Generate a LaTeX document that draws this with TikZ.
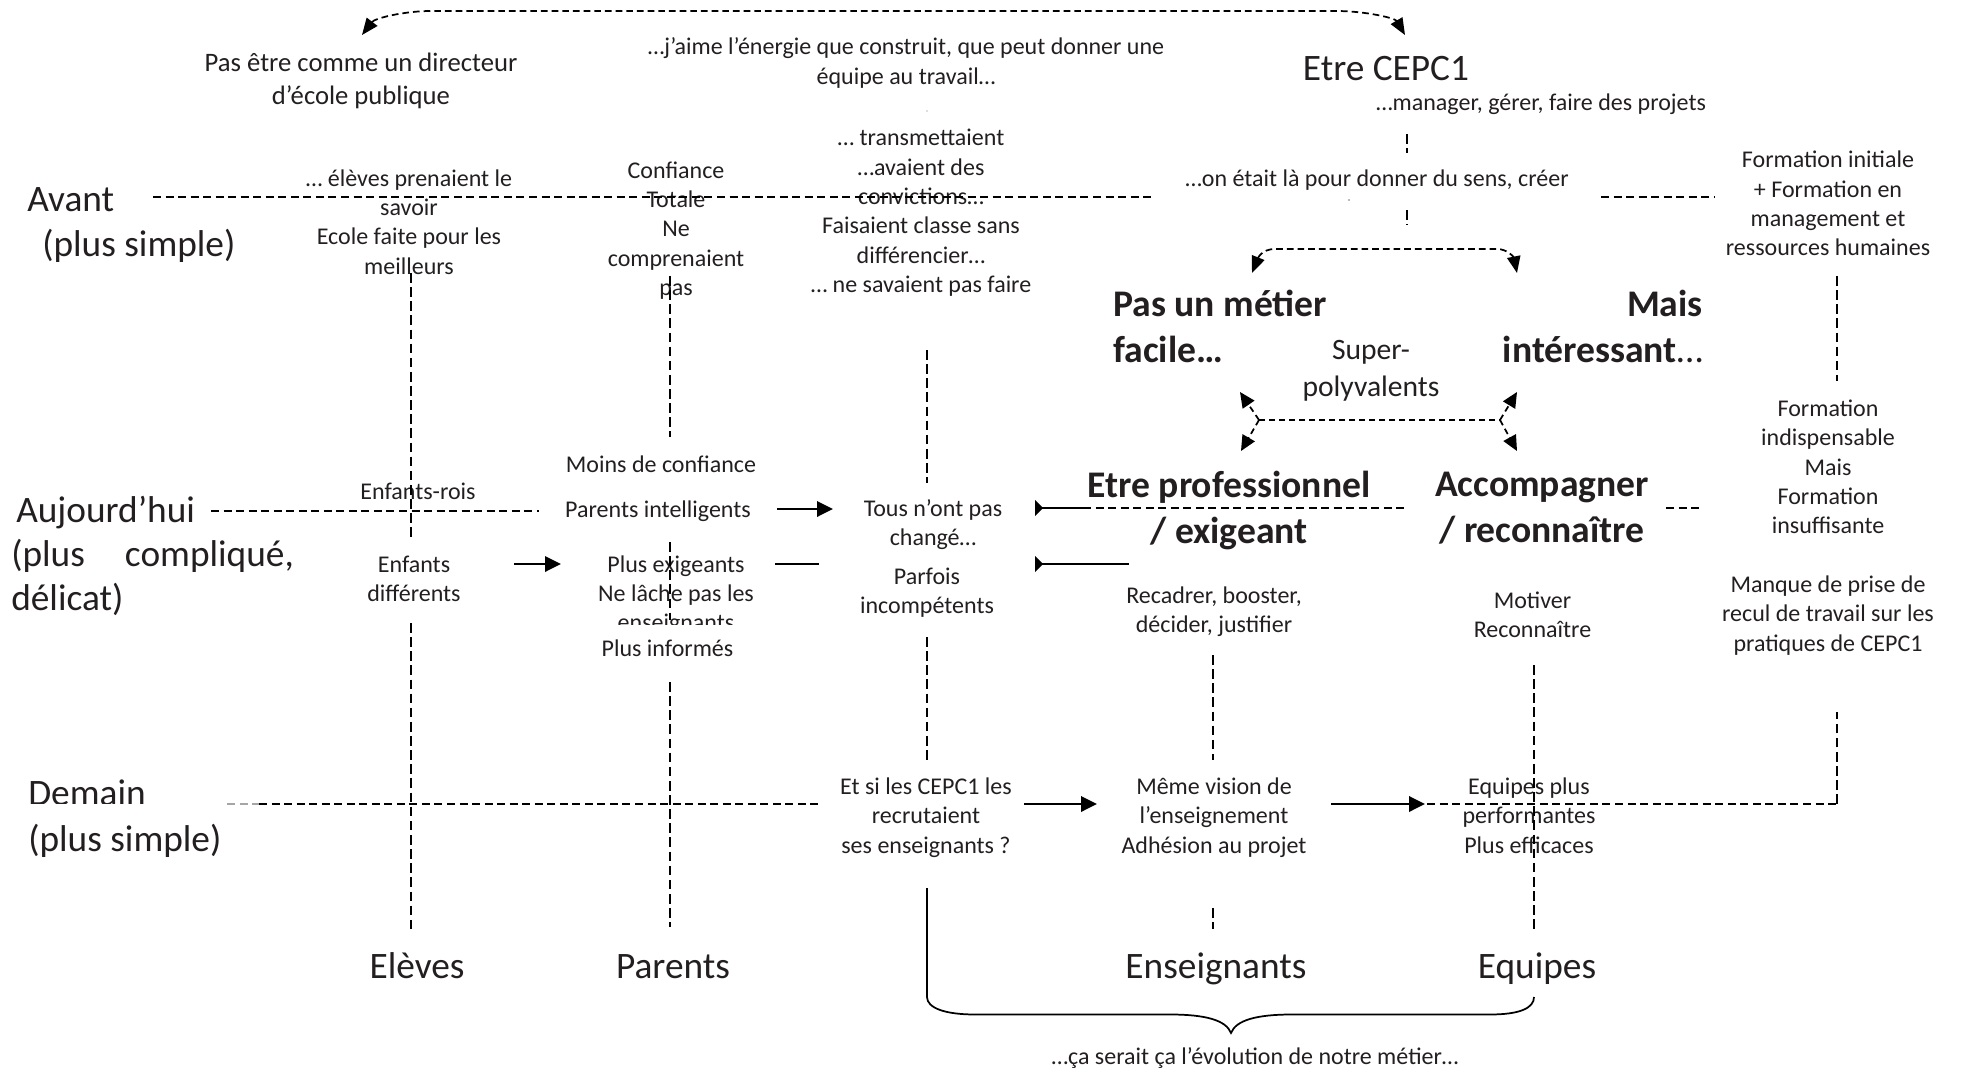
\documentclass[tikz,border=0pt]{standalone}
\usepackage{fontspec}
\setmainfont{Carlito}
\usetikzlibrary{arrows.meta}
\definecolor{ink}{HTML}{231F20}
\newcommand\vst{\rule[-.3em]{0pt}{.95em}}
\tikzset{
  lbl/.style={text=ink,align=center,inner sep=0pt,yshift=-2.25pt,execute at begin node=\vst,execute at end node=\vst},
  small/.style={lbl,font=\fontsize{18}{22}\selectfont},
  medium/.style={lbl,font=\fontsize{20}{24.5}\selectfont},
  mid/.style={lbl,font=\fontsize{22.2}{27.5}\selectfont},
  big/.style={lbl,yshift=-1.1pt,font=\fontsize{28}{32.5}\selectfont},
  heavy/.style={lbl,font=\fontsize{28.2}{34}\selectfont\bfseries},
  dsh/.style={draw=black,line width=1.2pt,dash pattern=on 6pt off 3.4pt},
  vdsh/.style={draw=black,line width=1pt,dash pattern=on 7.2pt off 3.4pt},
  solidarrow/.style={draw=black,line width=1.8pt,-{Triangle[length=12pt,width=11.5pt]}},
  cutarrow/.style={draw=black,line width=1.8pt,-{Triangle[reversed,length=6pt,width=12pt]}},
  curved/.style={draw=black,line width=1.3pt,dash pattern=on 5pt off 3pt,{Triangle[length=12.5pt,width=10pt]}-{Triangle[length=12.5pt,width=10pt]}},
  onehead/.style={draw=black,line width=1.3pt,dash pattern=on 4.5pt off 3pt,-{Triangle[length=11.5pt,width=10.5pt]}},
  speck/.style={fill=black!55}
}
\begin{document}
\begin{tikzpicture}[x=0.75pt,y=-0.75pt]
\useasboundingbox (0,0) rectangle (1961,1070);
% free ends
\foreach \n/\x/\y in {
 av1/153/197,av2/1152/197,av3/1601/197,av4/1714/197,
 au1/211/511,au2/539/511,au3/1083/508,au4/1407/508,au5/1666/508,au6/1699/508,
 de0/227/804,de1/259/804,de2/819/804,de3/1427/804,de4/1837/804,de5/1837/712,
 c1a/411/273,c1b/411/538,c1c/411/623,c1d/411/932,
 c2a/670/276,c2b/670/437,c2c/670/542,c2d/670/620,c2e/670/682,c2f/670/927,
 c3a/927/350,c3b/927/483,c3c/927/637,c3d/927/760,
 c4a/1213/655,c4b/1213/760,c4c/1213/908,c4d/1213/929,
 c5a/1534/665,c5b/1534/932,
 c6a/1837/276,c6b/1837/381,
 t1a/1407/134,t1b/1407/153,t2a/1407/210,t2b/1407/225,
 a1a/777/509,a1b/833/509,a2a/1083/508,a2b/1035/508,a3a/1129/564,a3b/1035/564,
 l4a/775/564,l4b/819/564,a5a/514/564,a5b/561/564,
 a6a/1024/804,a6b/1097/804,a7a/1331/804,a7b/1425/804,
 k1/362/35,k2/1405/35,k3/1252/273,k4/1517/273,
 s1/1240/392,s2/1517/392,s3/1241/451,s4/1517/451,s5/1259/420,s6/1500/420,
 brA/927/888,brB/1534/997,brT/1231/1033}
 {\coordinate (\n) at (\x,\y);}
% Clipped texts
\begin{scope}
 \clip (0,600) rectangle (1961,624);
 \node[small] (ens) at (676,623) {enseignants};
\end{scope}
\begin{scope}
 \clip (0,760) rectangle (400,803.5);
 \node[big] (demain) [anchor=west] at (28,794) {Demain};
\end{scope}
% Row titles
\node[big,anchor=west] (avant) at (27,201) {Avant};
\node[big,anchor=west] (avant2) at (42,244) {(plus simple)};
\node[big,anchor=west] (auj) at (16,510) {Aujourd’hui};
\node[big,anchor=west] (auj2) at (11,554) {\makebox[212pt][s]{(plus\hfill compliqué,}};
\node[big,anchor=west] (auj3) at (11,598) {délicat)};
\node[big,anchor=west] (demain2) at (28,839) {(plus simple)};
% Column titles
\node[big] (eleves) at (417,967) {Elèves};
\node[big] (parents) at (673,967) {Parents};
\node[big] (enseign) at (1216,967) {Enseignants};
\node[big] (equipes) at (1537,967) {Equipes};
% Top
\node[medium] (dir) at (361,79.5) {Pas être comme un directeur\\d’école publique};
\node[small] (aime) at (906,61.5) {…j’aime l’énergie que construit, que peut donner une\\équipe au travail…};
\node[big] (cepc) at (1386,70) {Etre CEPC1};
\node[small] (manager) at (1541,103) {…manager, gérer, faire des projets};
\node[small] (sens) at (1377,179) {…on était là pour donner du sens, créer};
% Column texts, before
\node[small] (elevesav) at (409,222.5) {… élèves prenaient le\\savoir\\Ecole faite pour les\\meilleurs};
\node[small] (confiance) at (676,229) {Confiance\\Totale\\Ne\\comprenaient\\pas};
\node[small] (transm) at (921,211.5) {… transmettaient\\…avaient des\\convictions…\\Faisaient classe sans\\différencier…\\… ne savaient pas faire};
\node[small] (forminit) at (1828,204) {Formation initiale\\+ Formation en\\management et\\ressources humaines};
% Today
\node[small] (rois) at (418,491.5) {Enfants-rois};
\node[small] (diff) at (414,579.5) {Enfants\\différents};
\node[small] (moins) at (661,465) {Moins de confiance};
\node[small] (intel) at (658,510) {Parents intelligents};
\node[small] (exig) at (676,579.5) {Plus exigeants\\Ne lâche pas les};
\node[small] (inform) at (667.5,649) {Plus informés};
\node[small] (tous) at (933,523) {Tous n’ont pas\\changé…};
\node[small] (parfois) at (927,591.5) {Parfois\\incompétents};
\node[heavy] (pro) at (1229,510) {Etre professionnel\\/ exigeant};
\node[heavy] (acc) at (1542,510) {Accompagner\\/ reconnaître};
\node[small] (recad) at (1214,610.5) {Recadrer, booster,\\décider, justifier};
\node[small] (motiv) at (1532.5,615.5) {Motiver\\Reconnaître};
\node[small] (formind) at (1828,467.5) {Formation\\indispensable\\Mais\\Formation\\insuffisante};
\node[small] (manque) at (1828,614) {Manque de prise de\\recul de travail sur les\\pratiques de CEPC1};
% Tomorrow
\node[small] (etsi) at (926,816) {Et si les CEPC1 les\\recrutaient\\ses enseignants ?};
\node[small] (meme) at (1214,816) {Même vision de\\l’enseignement\\Adhésion au projet};
\node[small] (eqp) at (1529,816) {Equipes plus\\performantes\\Plus efficaces};
% Bold centre
\node[heavy,anchor=west,align=left] (pas) at (1113,329) {Pas un métier\\facile…};
\node[heavy,anchor=east,align=right] (mais) at (1703,329) {Mais\\intéressant{\mdseries …}};
\node[mid] (super) at (1371,370) {Super-\\polyvalents};
\node[small] (evol) at (1255,1057) {…ça serait ça l’évolution de notre métier…};
% Dashed lines
\draw[dsh] (av1) -- (av2);
\draw[dsh] (av3) -- (av4);
\draw[dsh] (au1) -- (au2);
\draw[dsh] (au3) -- (au4);
\draw[dsh] (au5) -- (au6);
\draw[dsh,draw=gray!70,line width=.8pt] (de0) -- (de1);
\draw[dsh] (de1) -- (de2);
\draw[dsh] (de3) -- (de4);
\draw[vdsh] (de4) -- (de5);
\draw[vdsh] (c1a) -- (c1b);
\draw[vdsh] (c1c) -- (c1d);
\draw[vdsh] (c2a) -- (c2b);
\draw[vdsh] (c2c) -- (c2d);
\draw[vdsh] (c2e) -- (c2f);
\draw[vdsh] (c3a) -- (c3b);
\draw[vdsh] (c3c) -- (c3d);
\draw[vdsh] (c4a) -- (c4b);
\draw[vdsh] (c4c) -- (c4d);
\draw[vdsh] (c5a) -- (c5b);
\draw[vdsh] (c6a) -- (c6b);
\draw[vdsh] (t1a) -- (t1b);
\draw[vdsh] (t2a) -- (t2b);
% Solid arrows
\draw[solidarrow] (a1a) -- (a1b);
\draw[cutarrow] (a2a) -- (a2b);
\draw[cutarrow] (a3a) -- (a3b);
\draw[solidarrow] (a5a) -- (a5b);
\draw[solidarrow] (a6a) -- (a6b);
\draw[solidarrow] (a7a) -- (a7b);
\draw[draw=black,line width=1.8pt] (l4a) -- (l4b);
% Curved double arrows
\draw[curved] (k1) .. controls (375,18) and (405,11) .. (431,11) -- (1336,11) .. controls (1365,11) and (1395,18) .. (k2);
\draw[curved] (k3) .. controls (1258,258) and (1262,249) .. (1275,249) -- (1497,249) .. controls (1508,249) and (1514,258) .. (k4);
\draw[onehead] (s5) -- (s1);
\draw[onehead] (s6) -- (s2);
\draw[onehead] (s5) -- (s3);
\draw[onehead] (s6) -- (s4);
\draw[line width=1.3pt,dash pattern=on 4.5pt off 3pt] (s5) -- (s6);
% Brace
\draw[black,line width=1.3pt] (brA) -- (927,997) .. controls (927,1008) and (945,1014.5) .. (975,1014.5) -- (1170,1014.5) .. controls (1205,1014.5) and (1226,1020) .. (brT) .. controls (1236,1020) and (1257,1014.5) .. (1292,1014.5) -- (1490,1014.5) .. controls (1520,1014.5) and (1534,1008) .. (brB);
% Specks
\fill[speck] (927,111) circle (0.7);
\fill[speck] (1349,200) circle (0.8);
\end{tikzpicture}
\end{document}
